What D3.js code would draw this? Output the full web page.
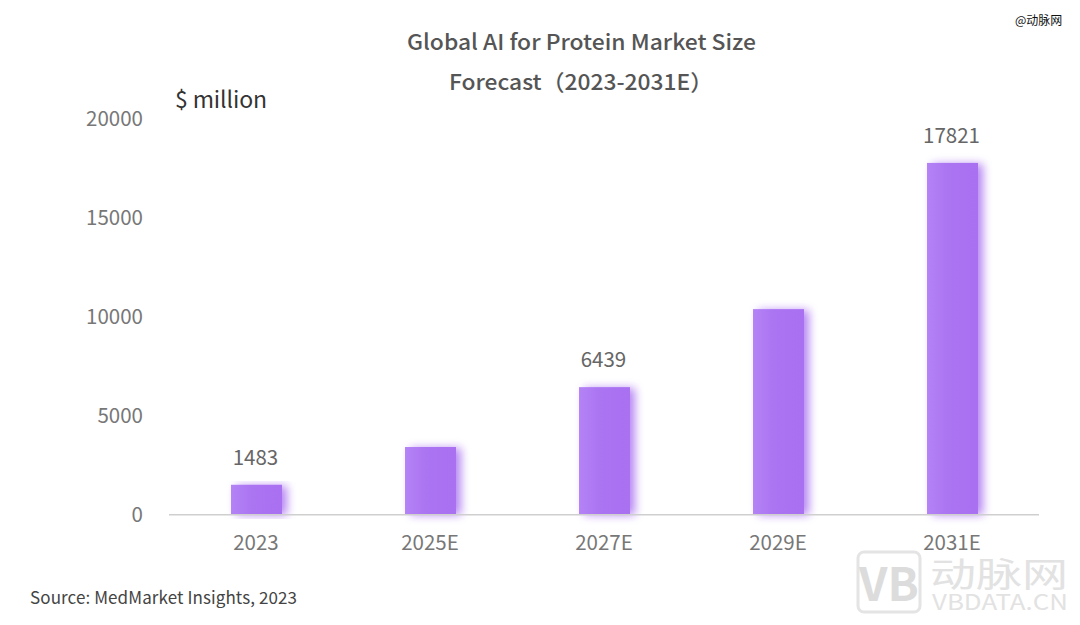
<!DOCTYPE html>
<html><head><meta charset="utf-8">
<script src="https://cdn.jsdelivr.net/npm/d3@7"></script>
<style>html,body{margin:0;padding:0;background:#fff;overflow:hidden}text{font-family:"Noto Sans CJK SC","Noto Sans",sans-serif}</style>
</head><body><svg id="c" width="1080" height="625"></svg>
<script>
const categories=["2023","2025E","2027E","2029E","2031E"];
const values=[1483,3400,6439,10400,17821];
const valueLabels=["1483",null,"6439",null,"17821"];
const yTicks=[0,5000,10000,15000,20000];
const titleLines=["Global AI for Protein Market Size","Forecast（2023-2031E）"];
const unitLabel="$ million";
const sourceLabel="Source: MedMarket Insights, 2023";
const watermarkTop="@动脉网";
const watermarkCn="动脉网";
const watermarkEn="VBDATA.CN";
const watermarkLogo="VB";

const svg=d3.select("#c");
const x=d3.scaleBand().domain(categories).range([169.5,1039.5]).paddingInner(0.707).paddingOuter(0.3535);
const y=d3.scaleLinear().domain([0,20000]).range([514,120]);
const yLabel=d3.scaleLinear().domain([0,20000]).range([514,118]);
const defs=svg.append("defs");
const f=defs.append("filter").attr("id","glow").attr("x","-40%").attr("y","-15%").attr("width","190%").attr("height","130%");
f.append("feGaussianBlur").attr("in","SourceGraphic").attr("stdDeviation",5).attr("result","b");
f.append("feOffset").attr("in","b").attr("dx",5).attr("dy",1).attr("result","o");
f.append("feComponentTransfer").attr("in","o").attr("result","s").append("feFuncA").attr("type","linear").attr("slope",0.85);
const m=f.append("feMerge");m.append("feMergeNode").attr("in","s");m.append("feMergeNode").attr("in","SourceGraphic");
const g=defs.append("linearGradient").attr("id","barFill").attr("x1",0).attr("x2",1).attr("y1",0).attr("y2",0);
g.append("stop").attr("offset",0).attr("stop-color","#b483f5");
g.append("stop").attr("offset",0.4).attr("stop-color","#ab74f2");
g.append("stop").attr("offset",1).attr("stop-color","#a970f1");

// watermark
const wm=svg.append("g");
wm.append("rect").attr("x",858).attr("y",552).attr("width",62).attr("height",60).attr("rx",6).attr("fill","none").attr("stroke","#e4e4e4").attr("stroke-width",3);
wm.append("text").attr("x",889).attr("y",601).attr("text-anchor","middle").attr("font-size",46).attr("font-weight",700).attr("fill","#dcdcdc").text(watermarkLogo);
wm.append("text").attr("x",930).attr("y",587).attr("font-size",34).attr("textLength",138).attr("lengthAdjust","spacingAndGlyphs").attr("fill","#e2e2e2").text(watermarkCn);
wm.append("text").attr("x",932).attr("y",610).attr("font-size",22).attr("textLength",136).attr("lengthAdjust","spacingAndGlyphs").attr("fill","#e2e2e2").text(watermarkEn);

svg.append("g").selectAll("rect").data(values).join("rect")
 .attr("x",(d,i)=>x(categories[i])).attr("width",x.bandwidth())
 .attr("y",d=>y(d)).attr("height",d=>y(0)-y(d))
 .attr("fill","url(#barFill)").attr("filter","url(#glow)");

svg.append("rect").attr("x",169).attr("width",870).attr("y",514).attr("height",1.5).attr("fill","#cfcfcf");

svg.append("g").selectAll("text").data(yTicks).join("text")
 .attr("x",143).attr("y",d=>yLabel(d)+8).attr("text-anchor","end").attr("font-size",20.5).attr("fill","#777").text(d=>d);
svg.append("g").selectAll("text").data(categories).join("text")
 .attr("x",d=>x(d)+x.bandwidth()/2-0.5).attr("y",550).attr("text-anchor","middle").attr("font-size",20.5).attr("fill","#777").text(d=>d);
svg.append("g").selectAll("text").data(values).join("text")
 .attr("x",(d,i)=>x(categories[i])+x.bandwidth()/2-1).attr("y",d=>y(d)-20).attr("text-anchor","middle").attr("font-size",20.5).attr("fill","#666")
 .text((d,i)=>valueLabels[i]||"");

svg.append("g").selectAll("text").data(titleLines).join("text")
 .attr("x",(d,i)=>i?449:407).attr("y",(d,i)=>50+i*40).attr("font-size",22).attr("font-weight",500).attr("fill","#555")
 .attr("textLength",(d,i)=>i?264:349).attr("lengthAdjust","spacingAndGlyphs").text(d=>d);
svg.append("text").attr("x",175).attr("y",108).attr("font-size",23).attr("fill","#333").attr("textLength",92).text(unitLabel);
svg.append("text").attr("x",30).attr("y",604).attr("font-size",17).attr("fill","#444").attr("textLength",267).text(sourceLabel);
svg.append("text").attr("x",1015).attr("y",25).attr("font-size",12).attr("fill","#111").text(watermarkTop);
</script></body></html>
